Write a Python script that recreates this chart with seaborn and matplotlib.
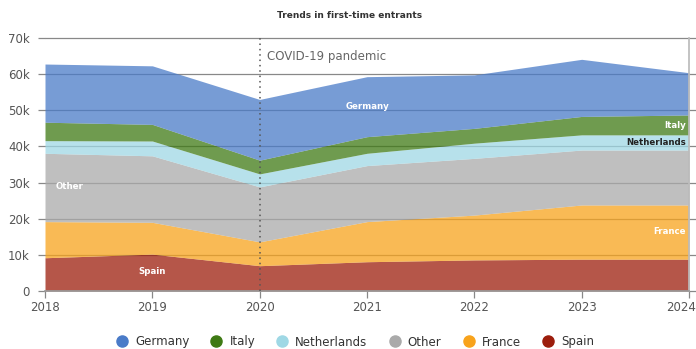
import numpy as np
import pandas as pd
import seaborn as sns
import matplotlib.pyplot as plt
from matplotlib.lines import Line2D
from matplotlib.transforms import ScaledTranslation

years = [2018, 2019, 2020, 2021, 2022, 2023, 2024]
spain = [9.2, 10.2, 7.0, 8.1, 8.6, 8.8, 8.8]
france = [10.0, 8.8, 6.6, 11.1, 12.4, 15.0, 15.0]
other = [18.9, 18.4, 15.2, 15.5, 15.7, 15.2, 15.2]
netherlands = [3.5, 4.1, 3.6, 3.4, 4.2, 4.2, 4.2]
italy = [5.1, 4.6, 3.8, 4.6, 4.1, 5.1, 5.5]
germany = [16.1, 16.2, 16.8, 16.6, 14.8, 15.8, 11.7]

series = ["Spain", "France", "Other", "Netherlands", "Italy", "Germany"]
colors = {"Germany": "#4a7bc8", "Italy": "#3f7a14", "Netherlands": "#9fd8e5",
          "Other": "#aaaaaa", "France": "#f8a31c", "Spain": "#9c1d0c"}

df = pd.DataFrame({"Spain": spain, "France": france, "Other": other,
                   "Netherlands": netherlands, "Italy": italy, "Germany": germany},
                  index=years) * 1000

sns.set_theme(style="white")
plt.rcParams['font.family'] = ['DejaVu Sans']

fig = plt.figure(figsize=(6.96, 3.49), dpi=100)
ax = fig.add_axes([45/696, 1 - 291/349, (689-45)/696, (291-38)/349])

for y in range(10000, 70001, 10000):
    ax.axhline(y, color="#888888", lw=0.9, zorder=0, clip_on=False)
ax.stackplot(df.index, [df[s] for s in series],
             colors=[colors[s] for s in series], alpha=0.75, lw=0, zorder=2)

ax.axvline(2020, color="#555555", lw=1.1, ls=(0, (1, 2.5)), zorder=3)
ax.text(2020.07, 65000, "COVID-19 pandemic", color="#666666", fontsize=8.5,
        va="center", ha="left")

ax.set_xlim(2018, 2024)
ax.set_ylim(0, 70000)
ax.set_xticks(years)
ax.set_xticklabels([str(y) for y in years])
ax.set_yticks(range(0, 70001, 10000))
ax.set_yticklabels(["0"] + [f"{v}k" for v in range(10, 71, 10)])
ax.tick_params(axis="both", colors="#555555", labelsize=8.5, length=5, width=0.9)
ax.tick_params(axis="y", pad=6, color="#888888")
ax.tick_params(axis="x", bottom=True, color="#888888", pad=2)
ax.yaxis.set_ticks_position("both")
ax.yaxis.set_tick_params(labelright=False)
for sp in ["top", "left"]:
    ax.spines[sp].set_visible(False)
ax.spines["bottom"].set_color("#999999")
ax.spines["right"].set_color("#bbbbbb")

# keep the last year label inside the figure
last = ax.get_xticklabels()[-1]
last.set_transform(last.get_transform() + ScaledTranslation(-6/72, 0, fig.dpi_scale_trans))

lab = dict(fontsize=6.2, fontweight="bold", va="center")
ax.text(2021, 51000, "Germany", color="white", ha="center", **lab)
ax.text(2023.97, 45900, "Italy", color="white", ha="right", **lab)
ax.text(2023.97, 41200, "Netherlands", color="#222222", ha="right", **lab)
ax.text(2018.1, 28900, "Other", color="white", ha="left", **lab)
ax.text(2023.97, 16400, "France", color="white", ha="right", **lab)
ax.text(2019, 5300, "Spain", color="white", ha="center", **lab)

fig.text(350/696, 1 - 16/349, "Trends in first-time entrants", ha="center",
         va="center", fontsize=6.5, fontweight="bold", color="#333333")

order = ["Germany", "Italy", "Netherlands", "Other", "France", "Spain"]
handles = [Line2D([], [], marker="o", ls="", markersize=8, color=colors[s]) for s in order]
fig.legend(handles, order, loc="center", bbox_to_anchor=(352/696, 1 - 342/349),
           ncol=6, frameon=False, fontsize=8.5, handletextpad=0.1,
           columnspacing=1.3, labelcolor="#333333")

fig.savefig("out.png", dpi=100)
